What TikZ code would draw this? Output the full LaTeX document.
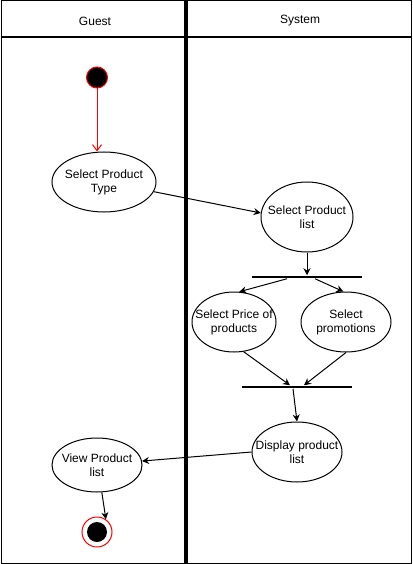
\documentclass[tikz,border=0pt]{standalone}
\usepackage{fontspec}
\setmainfont{Liberation Sans}
\usetikzlibrary{shapes.geometric,arrows.meta}

\begin{document}
\begin{tikzpicture}[x=1pt,y=-1pt,line width=1pt,
  action/.style={draw,ellipse,inner sep=0pt,label={[align=center,font=\fontsize{12}{14}\selectfont]center:#1}},
  bar/.style={fill=black,inner sep=0pt,minimum height=2.5pt},
  flow/.style={-{Stealth[length=7pt,width=7pt]}},
  lane/.style={font=\fontsize{12}{14}\selectfont}]
\useasboundingbox (0,0) rectangle (412,564);
\draw (1,1) rectangle (411,563);
\draw[line width=2pt] (1,37)--(411,37);
\draw[line width=4pt] (186,1)--(186,563);
\node[lane] (guest) at (95,21) {Guest};
\node[lane] (system) at (300,21) {System};
\node[circle,fill=black,draw=red,minimum size=21pt,inner sep=0pt] (start) at (97,77.5) {};
\node[action={Select Product\\Type},minimum width=104pt,minimum height=60pt] (type) at (104,182) {};
\node[action={Select Product\\list},minimum width=92pt,minimum height=70pt] (plist) at (307,217) {};
\node[bar,minimum width=110pt] (fork) at (307,277) {};
\node[action={Select Price of\\products},minimum width=84pt,minimum height=60pt] (price) at (234,322) {};
\node[action={Select\\promotions},minimum width=90pt,minimum height=60pt] (promo) at (346,322) {};
\node[bar,minimum width=110pt] (join) at (297,387) {};
\node[action={Display product\\list},minimum width=90pt,minimum height=60pt] (display) at (297,452) {};
\node[action={View Product\\list},minimum width=90pt,minimum height=54pt] (view) at (97,465) {};
\node[circle,draw=red,minimum size=30pt,inner sep=0pt] (end) at (97,532) {};
\fill[black] (end) circle (10pt);
\draw[red,-{Straight Barb[length=6pt,width=9pt]}] (start.south)--(start |- type.north);
\draw[flow] (type.-11)--(plist.175);
\draw[flow] (plist.south)--(plist.south |- fork.north);
\draw[flow] ([xshift=-20pt]fork.south)--(price.80);
\draw[flow] ([xshift=8pt]fork.south)--(promo.95);
\draw[flow] (price.-72)--([xshift=-7pt]join.north);
\draw[flow] (promo.south)--([xshift=7pt]join.north);
\draw[flow] ([xshift=-4pt]join.south)--(display.north);
\draw[flow] (display.west)--(view.5);
\draw[flow] (view.-80)--(end.55);
\end{tikzpicture}
\end{document}
